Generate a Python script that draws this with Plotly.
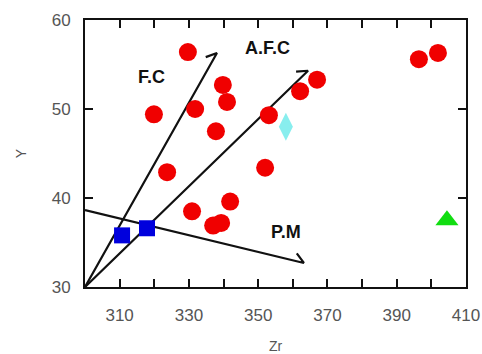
import math
import plotly.graph_objects as go

# ---- data ----
red_x = [329.7, 319.9, 331.8, 339.8, 341.0, 337.8, 323.7, 330.9, 341.9, 337.0, 339.3,
         353.1, 352.0, 362.1, 367.0, 396.4, 401.9]
red_y = [56.4, 49.4, 50.0, 52.7, 50.8, 47.5, 42.9, 38.5, 39.6, 36.9, 37.2,
         49.3, 43.4, 52.0, 53.3, 55.6, 56.3]
blue_x = [310.7, 317.9]
blue_y = [35.8, 36.6]
cyan_x = [358.0]
cyan_y = [48.0]
green_x = [404.5]
green_y = [37.5]

trend_names = ["F.C", "A.F.C", "P.M"]
trend_start_x = [300.0, 300.0, 300.0]
trend_start_y = [30.0, 30.0, 38.65]
trend_tip_x = [338.1, 364.4, 363.2]
trend_tip_y = [56.3, 54.3, 32.7]
label_x = [319.1, 352.8, 358.0]
label_y = [53.6, 56.9, 36.2]

x_ticks = [310, 330, 350, 370, 390, 410]
y_ticks = [30, 40, 50, 60]
x_range = [300, 410]
y_range = [30, 60]

# ---- layout geometry ----
W, H = 482, 354
ML, MR, MT, MB = 85, 16, 20, 67
PW, PH = W - ML - MR, H - MT - MB
sx = PW / (x_range[1] - x_range[0])
sy = PH / (y_range[1] - y_range[0])
FONT = "Liberation Sans, Arial, sans-serif"


def barb(x0, y0, x1, y1, ang=40, length=12):
    dx = (x0 - x1) * sx
    dy = -(y0 - y1) * sy
    n = math.hypot(dx, dy)
    ux, uy = dx / n, dy / n
    a = math.radians(ang)
    bx = length * (math.cos(a) * ux - math.sin(a) * uy)
    by = length * (math.sin(a) * ux + math.cos(a) * uy)
    return x1 + bx / sx, y1 - by / sy


fig = go.Figure()

for i in range(3):
    bx, by = barb(trend_start_x[i], trend_start_y[i], trend_tip_x[i], trend_tip_y[i])
    fig.add_trace(go.Scatter(
        x=[trend_start_x[i], trend_tip_x[i], bx],
        y=[trend_start_y[i], trend_tip_y[i], by],
        mode="lines", line=dict(color="#111111", width=2.2),
        hoverinfo="skip", showlegend=False, cliponaxis=False))

fig.add_trace(go.Scatter(x=red_x, y=red_y, mode="markers",
                         marker=dict(symbol="circle", size=18, color="#f00000"),
                         showlegend=False))
fig.add_trace(go.Scatter(x=blue_x, y=blue_y, mode="markers",
                         marker=dict(symbol="square", size=16, color="#0000dd"),
                         showlegend=False))
fig.add_trace(go.Scatter(x=cyan_x, y=cyan_y, mode="markers",
                         marker=dict(symbol="diamond-tall", size=20, color="#88eeee"),
                         showlegend=False))
fig.add_trace(go.Scatter(x=green_x, y=green_y, mode="markers",
                         marker=dict(symbol="triangle-up", size=20, color="#11dd11"),
                         showlegend=False))

for i in range(3):
    fig.add_annotation(x=label_x[i], y=label_y[i], text="<b>%s</b>" % trend_names[i],
                       showarrow=False, font=dict(size=18, color="#111111", family=FONT))

axis_common = dict(showline=True, linecolor="#111111", linewidth=2, mirror="ticks",
                   ticks="inside", ticklen=8, tickwidth=2, tickcolor="#111111",
                   showgrid=False, zeroline=False,
                   tickfont=dict(size=17, color="#555555", family=FONT))

fig.update_xaxes(range=x_range, tickvals=x_ticks, ticklabelstandoff=12,
                 minor=dict(dtick=10, tick0=300, ticks="inside", ticklen=8,
                            tickwidth=2, tickcolor="#111111"),
                 title=dict(text="Zr", standoff=18,
                            font=dict(size=14, color="#555555", family=FONT)),
                 automargin=False, **axis_common)
fig.update_yaxes(range=y_range, tickvals=y_ticks, ticklabelstandoff=9,
                 title=dict(text="Y", standoff=22,
                            font=dict(size=14, color="#555555", family=FONT)),
                 automargin=False, **axis_common)

fig.update_layout(width=W, height=H, margin=dict(l=ML, r=MR, t=MT, b=MB),
                  plot_bgcolor="white", paper_bgcolor="white", showlegend=False)

fig.write_html("out.html")
